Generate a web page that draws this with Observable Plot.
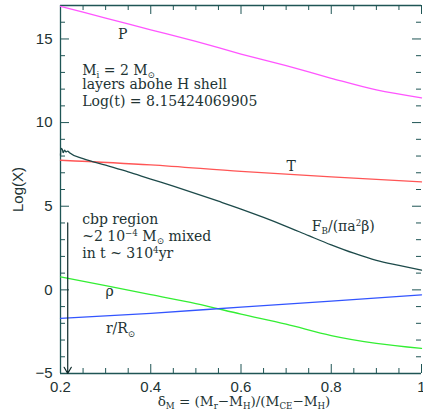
<!DOCTYPE html>
<html><head><meta charset="utf-8">
<script src="https://cdn.jsdelivr.net/npm/d3@7"></script>
<script src="https://cdn.jsdelivr.net/npm/@observablehq/plot@0.6"></script>
<style>html,body{margin:0;padding:0;background:#fff}svg{display:block}</style>
</head><body><div id="chart"></div>
<script>
// ---- data ----
const deltaP = [0.2,0.3,0.4,0.5,0.6,0.7,0.8,0.9,1.0];
const logP   = [16.95,16.25,15.55,14.85,14.1,13.4,12.65,11.95,11.48];

const deltaT = [0.2,0.4,0.6,0.8,1.0];
const logT   = [7.75,7.47,7.08,6.75,6.45];

const deltaF = [0.2,0.201,0.204,0.206,0.209,0.212,0.216,0.22,0.25,0.3,0.35,0.4,0.45,0.5,0.55,0.6,0.65,0.7,0.75,0.8,0.85,0.9,0.95,1.0];
const logF   = [8.05,8.45,8.4,8.2,8.35,8.25,8.3,8.2,7.85,7.45,7.05,6.62,6.2,5.76,5.3,4.83,4.33,3.8,3.24,2.69,2.19,1.76,1.46,1.18];

const deltaRho = [0.2,0.3,0.4,0.5,0.6,0.7,0.8,0.9,1.0];
const logRho   = [0.78,0.25,-0.29,-0.82,-1.45,-2.05,-2.73,-3.2,-3.5];

const deltaR = [0.2,0.4,0.6,0.8,1.0];
const logR   = [-1.7,-1.4,-1.03,-0.67,-0.3];

// arrow marking the cbp region
const arrowX = [0.216];
const arrowFrom = [4.0];
const arrowTo = [-5];

// ticks
const majorX = [0.2,0.4,0.6,0.8,1.0];
const minorX = [0.25,0.3,0.35,0.45,0.5,0.55,0.65,0.7,0.75,0.85,0.9,0.95];
const majorY = [-5,0,5,10,15];
const minorY = [-4,-3,-2,-1,1,2,3,4,6,7,8,9,11,12,13,14,16];

// annotations
const annoText = ["P","M_{i} = 2 M_{⊙}","layers abohe H shell","Log(t) = 8.15424069905",
  "cbp region","~2 10^{−4} M_{⊙} mixed","in t ~ 310^{4}yr","T","F_{B}/(πa^{2}β)","ρ","r/R_{⊙}"];
const annoX = [0.338,0.248,0.248,0.248,0.248,0.248,0.248,0.711,0.757,0.309,0.333];
const annoY = [15.28,13.1,12.25,11.28,4.23,3.21,2.2,7.39,3.81,-0.12,-2.34];
const annoAnchor = ["middle","start","start","start","start","start","start","middle","start","middle","middle"];

const xLabel = "δ_{M} = (M_{r}−M_{H})/(M_{CE}−M_{H})";
const yLabel = "Log(X)";

// ---- chart ----
const W = 423, H = 419, mL = 60, mR = 2, mT = 5, mB = 46;
const plotW = W - mL - mR, plotH = H - mT - mB;
const axisColor = "#1f5555";
const serif = "DejaVu Serif";
const pts = (xs, ys) => xs.map((x, i) => ({x, y: ys[i]}));
const annos = annoText.map((t, i) => ({t, x: annoX[i], y: annoY[i], a: annoAnchor[i]}));

const lineOpt = (c) => ({x: "x", y: "y", stroke: c, strokeWidth: 1.3, curve: "monotone-x"});
const textOpt = {x: "x", y: "y", text: "t", fontFamily: serif, fontSize: 14, fill: "#223333"};

const chart = Plot.plot({
  width: W, height: H,
  marginLeft: mL, marginRight: mR, marginTop: mT, marginBottom: mB,
  style: {fontFamily: "Liberation Sans", fontSize: "15px", color: "#223333", background: "#fff"},
  x: {domain: [0.2, 1.0], ticks: majorX, tickSize: 0, tickPadding: 8, label: null,
      tickFormat: d => d === 1 ? "1" : d.toFixed(1)},
  y: {domain: [-5, 17], ticks: majorY, tickSize: 0, tickPadding: 8, label: null},
  marks: [
    // frame lines
    Plot.ruleX([0.2], {stroke: axisColor, strokeWidth: 1.3}),
    Plot.ruleY([-5], {stroke: axisColor, strokeWidth: 1.3}),
    Plot.ruleY([17], {stroke: axisColor, strokeWidth: 1.3}),
    // inward ticks
    Plot.tickX(majorX, {x: d => d, insetTop: plotH - 9, stroke: axisColor}),
    Plot.tickX(minorX, {x: d => d, insetTop: plotH - 5, stroke: axisColor}),
    Plot.tickX(majorX, {x: d => d, insetBottom: plotH - 9, stroke: axisColor}),
    Plot.tickX(minorX, {x: d => d, insetBottom: plotH - 5, stroke: axisColor}),
    Plot.tickY(majorY, {y: d => d, insetRight: plotW - 9, stroke: axisColor}),
    Plot.tickY(minorY, {y: d => d, insetRight: plotW - 5, stroke: axisColor}),
    Plot.tickY(majorY, {y: d => d, insetLeft: plotW - 9, stroke: axisColor}),
    Plot.tickY(minorY, {y: d => d, insetLeft: plotW - 5, stroke: axisColor}),
    // curves
    Plot.line(pts(deltaP, logP), lineOpt("#ff55ff")),
    Plot.line(pts(deltaT, logT), lineOpt("#ff5555")),
    Plot.line(pts(deltaF, logF), lineOpt("#1d4a4a")),
    Plot.line(pts(deltaRho, logRho), lineOpt("#33ee33")),
    Plot.line(pts(deltaR, logR), lineOpt("#3355ff")),
    // arrow
    Plot.arrow(arrowX.map((x, i) => ({x, y1: arrowFrom[i], y2: arrowTo[i]})),
      {x1: "x", x2: "x", y1: "y1", y2: "y2", stroke: "#0f2a2a", strokeWidth: 1.2, headLength: 9, bend: 0}),
    // annotations
    Plot.text(annos.filter(d => d.a === "start"), {...textOpt, textAnchor: "start"}),
    Plot.text(annos.filter(d => d.a === "middle"), {...textOpt, textAnchor: "middle"}),
    // axis labels
    Plot.text([xLabel], {frameAnchor: "bottom", dy: 32, dx: 3, textAnchor: "middle", text: d => d, fontFamily: serif, fontSize: 13.5, fill: "#223333"}),
    Plot.text([yLabel], {frameAnchor: "left", dx: -42, rotate: -90, textAnchor: "middle", text: d => d, fontSize: 15, fill: "#223333"})
  ]
});

// rich text: _{sub} and ^{sup}
d3.select(chart).selectAll("text").each(function () {
  const t = this.textContent;
  if (!/[_^]\{/.test(t)) return;
  const fs = 14;
  const sel = d3.select(this);
  sel.text(null);
  const parts = t.split(/(_\{[^}]*\}|\^\{[^}]*\})/).filter(s => s.length);
  let shift = 0;
  for (const p of parts) {
    let target = 0, txt = p, small = false;
    if (p.startsWith("_{")) { target = 0.22 * fs; txt = p.slice(2, -1); small = true; }
    else if (p.startsWith("^{")) { target = -0.35 * fs; txt = p.slice(2, -1); small = true; }
    const ts = sel.append("tspan").text(txt);
    if (target - shift !== 0) ts.attr("dy", target - shift);
    if (small) ts.attr("font-size", 0.62 * fs);
    shift = target;
  }
});

document.getElementById("chart").appendChild(chart);
</script>
</body></html>
